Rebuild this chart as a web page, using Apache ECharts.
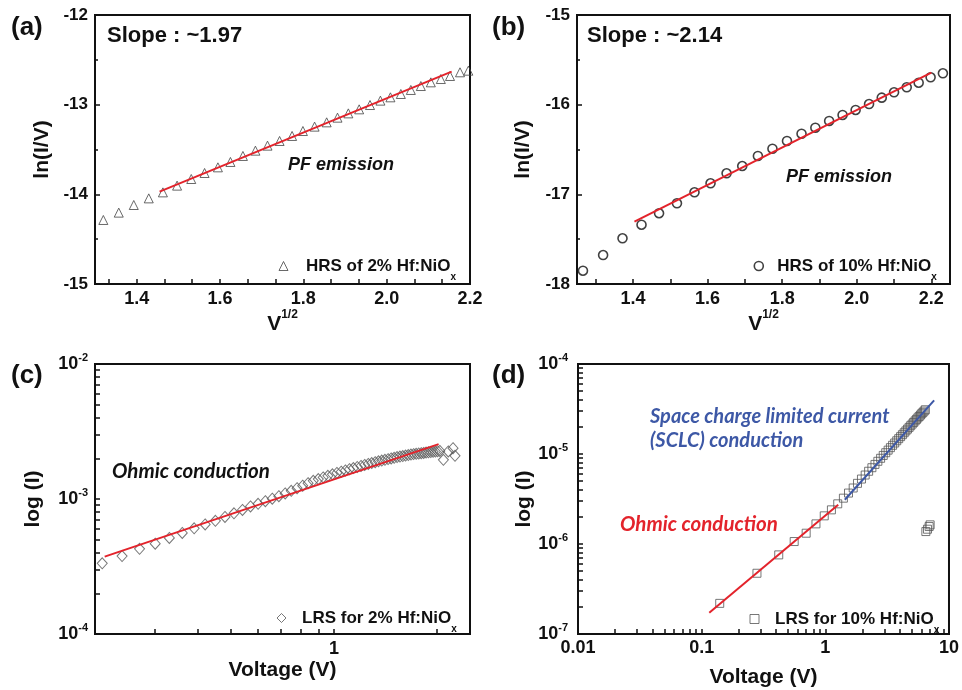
<!DOCTYPE html>
<html><head><meta charset="utf-8">
<script src="https://cdn.jsdelivr.net/npm/echarts@6/dist/echarts.min.js"></script>
<style>html,body{margin:0;padding:0;background:#fff}#c{width:962px;height:690px}</style>
</head><body><div id="c"></div>
<script>
// ---------- (a) HRS of 2% Hf:NiOx : ln(I/V) vs V^1/2 ----------
const aX = [1.320,1.357,1.393,1.429,1.463,1.497,1.531,1.563,1.595,1.625,1.655,1.685,1.714,1.743,1.773,1.799,1.827,1.856,1.882,1.908,1.934,1.960,1.985,2.009,2.034,2.058,2.082,2.106,2.130,2.152,2.176,2.196];
const aY = [-14.286,-14.204,-14.119,-14.045,-13.978,-13.903,-13.829,-13.762,-13.699,-13.639,-13.572,-13.513,-13.457,-13.405,-13.349,-13.294,-13.245,-13.197,-13.145,-13.097,-13.052,-13.004,-12.955,-12.918,-12.881,-12.836,-12.792,-12.751,-12.714,-12.680,-12.639,-12.621];
const aFitX = [1.455, 2.156];
const aFitY = [-13.970, -12.632];
const aXLabels = [1.4,1.6,1.8,2.0,2.2];
const aXTicks = [1.3333,1.4,1.4667,1.5333,1.6,1.6667,1.7333,1.8,1.8667,1.9333,2.0,2.0667,2.1333,2.2];

// ---------- (b) HRS of 10% Hf:NiOx ----------
const bX = [1.266,1.320,1.372,1.423,1.470,1.518,1.565,1.608,1.651,1.693,1.735,1.774,1.813,1.852,1.889,1.926,1.962,1.997,2.033,2.067,2.100,2.134,2.166,2.198,2.231];
const bY = [-17.852,-17.677,-17.490,-17.339,-17.211,-17.100,-16.977,-16.877,-16.765,-16.684,-16.572,-16.491,-16.405,-16.324,-16.257,-16.182,-16.115,-16.059,-15.993,-15.922,-15.862,-15.806,-15.755,-15.695,-15.650];
const bFitX = [1.404, 2.200];
const bFitY = [-17.305, -15.643];
const bXLabels = [1.4,1.6,1.8,2.0,2.2];
const bXTicks = [1.3,1.4,1.5,1.6,1.7,1.8,1.9,2.0,2.1,2.2];

// ---------- (c) LRS for 2% Hf:NiOx : log I vs V ----------
const cX = [0.21,0.24,0.27,0.30,0.33,0.36,0.39,0.42,0.45,0.48,0.51,0.54,0.57,0.60,0.63,0.66,0.69,0.72,0.75,
  0.78,0.81,0.84,0.87,0.90,0.93,0.96,0.99,1.02,1.05,1.08,1.11,1.14,1.17,1.20,1.23,1.26,1.29,1.32,1.35,
  1.38,1.41,1.44,1.47,1.50,1.53,1.56,1.59,1.62,1.65,1.68,1.71,1.74,1.77,1.80,1.83,1.86,1.89,1.92,1.95,
  1.98,2.01,2.04,2.09,2.16,2.23,2.26];
const cY = [3.34e-4,3.78e-4,4.28e-4,4.67e-4,5.15e-4,5.61e-4,6.07e-4,6.48e-4,6.90e-4,7.36e-4,7.84e-4,8.29e-4,8.80e-4,9.22e-4,9.63e-4,1.005e-3,1.05e-3,1.10e-3,1.15e-3,
  1.203e-3,1.256e-3,1.309e-3,1.363e-3,1.405e-3,1.446e-3,1.486e-3,1.524e-3,1.559e-3,1.594e-3,1.629e-3,1.662e-3,1.694e-3,1.726e-3,1.758e-3,1.789e-3,1.817e-3,1.845e-3,1.874e-3,1.901e-3,
  1.927e-3,1.951e-3,1.974e-3,1.997e-3,2.020e-3,2.043e-3,2.061e-3,2.080e-3,2.098e-3,2.115e-3,2.133e-3,2.150e-3,2.162e-3,2.173e-3,2.184e-3,2.195e-3,2.206e-3,2.216e-3,2.227e-3,2.238e-3,
  2.248e-3,2.258e-3,2.268e-3,1.95e-3,2.25e-3,2.38e-3,2.09e-3];
const cFitX = [0.2135, 2.024];
const cFitY = [3.74e-4, 2.55e-3];
const cXLabels = [1];
const cXTicks = [0.3,0.4,0.5,0.6,0.7,0.8,0.9,1,2];
const cYLabels = [1e-4,1e-3,1e-2];
const cYTicks = [1e-4,2e-4,3e-4,4e-4,5e-4,6e-4,7e-4,8e-4,9e-4,1e-3,2e-3,3e-3,4e-3,5e-3,6e-3,7e-3,8e-3,9e-3,1e-2];

// ---------- (d) LRS for 10% Hf:NiOx ----------
const dX = [0.14,0.28,0.42,0.56,0.70,0.84,0.98,1.12,1.26,1.40,1.54,1.68,1.82,1.96,2.10,2.24,2.38,2.52,2.66,2.80,
  2.94,3.08,3.22,3.36,3.50,3.64,3.78,3.92,4.06,4.20,4.34,4.48,4.62,4.76,4.90,5.04,5.18,5.32,5.46,5.60,
  5.74,5.88,6.02,6.16,6.30,6.44,6.50,6.70,6.91,7.04];
const dY = [2.19e-7,4.73e-7,7.57e-7,1.065e-6,1.318e-6,1.674e-6,2.055e-6,2.396e-6,2.794e-6,3.23e-6,3.68e-6,4.19e-6,4.72e-6,5.27e-6,5.84e-6,6.43e-6,7.04e-6,7.66e-6,8.30e-6,8.96e-6,
  9.64e-6,1.033e-5,1.104e-5,1.176e-5,1.250e-5,1.325e-5,1.402e-5,1.480e-5,1.559e-5,1.639e-5,1.722e-5,1.805e-5,1.890e-5,1.976e-5,2.063e-5,2.151e-5,2.242e-5,2.333e-5,2.425e-5,2.518e-5,
  2.612e-5,2.708e-5,2.804e-5,2.902e-5,3.000e-5,3.101e-5,1.375e-6,1.46e-6,1.563e-6,1.632e-6];
const dOhmFitX = [0.1152, 1.271];
const dOhmFitY = [1.727e-7, 2.724e-6];
const dSclcFitX = [1.438, 7.58];
const dSclcFitY = [3.10e-6, 3.94e-5];
const dXLabels = [0.01,0.1,1,10];
const dXTicks = [0.01,0.02,0.03,0.04,0.05,0.06,0.07,0.08,0.09,0.1,0.2,0.3,0.4,0.5,0.6,0.7,0.8,0.9,1,2,3,4,5,6,7,8,9,10];
const dYLabels = [1e-7,1e-6,1e-5,1e-4];
const dYTicks = [1e-7,2e-7,3e-7,4e-7,5e-7,6e-7,7e-7,8e-7,9e-7,1e-6,2e-6,3e-6,4e-6,5e-6,6e-6,7e-6,8e-6,9e-6,1e-5,2e-5,3e-5,4e-5,5e-5,6e-5,7e-5,8e-5,9e-5,1e-4];

// ---------------------------------------------------------------
const FONT = 'Liberation Sans';
const INK = '#111';
const RED = '#e3232b';
const BLUE = '#3d58a6';
const zip = (xs, ys) => xs.map((x, i) => [x, ys[i]]);

const axisBase = {
  axisLine: {show: true, onZero: false, lineStyle: {color: INK, width: 2}},
  axisTick: {show: true, inside: true, length: 5, lineStyle: {color: INK, width: 1.5}},
  splitLine: {show: false},
  nameTextStyle: {color: INK, fontFamily: FONT, fontWeight: 'bold', fontSize: 21}
};
const supRich = {
  b: {fontFamily: FONT, fontWeight: 'bold', fontSize: 18, color: INK, lineHeight: 24},
  s: {fontFamily: FONT, fontWeight: 'bold', fontSize: 11, color: INK, lineHeight: 11, verticalAlign: 'top'}
};
const powLabel = v => '{b|10}{s|' + Math.round(Math.log10(v)) + '}';

function mk(o) { return Object.assign({}, axisBase, o); }

function legend(name, icon, left, top, pad, border, bw) {
  return {
    data: [name], left: left, top: top, padding: 0, itemWidth: 9, itemHeight: 9,
    selectedMode: false, icon: icon,
    itemStyle: {color: 'rgba(0,0,0,0)', borderColor: border, borderWidth: bw},
    formatter: n => '{g| }{m|' + n + '}{sub|x}',
    textStyle: {
      fontFamily: FONT, fontSize: 17, fontWeight: 'bold', color: INK,
      rich: {
        g: {width: pad, fontSize: 10, lineHeight: 10},
        m: {fontFamily: FONT, fontSize: 17, fontWeight: 'bold', color: INK, lineHeight: 18, verticalAlign: 'top', padding: [1, 0, 9, 0]},
        sub: {fontFamily: FONT, fontSize: 10, fontWeight: 'bold', color: INK, lineHeight: 10, verticalAlign: 'top', padding: [15, 0, 0, 0]}
      }
    }
  };
}

const option = {
  animation: false,
  backgroundColor: '#fff',
  grid: [
    {left: 95, top: 15, width: 375, height: 269, show: true, borderColor: INK, borderWidth: 2},
    {left: 577, top: 15, width: 373, height: 269, show: true, borderColor: INK, borderWidth: 2},
    {left: 95, top: 364, width: 375, height: 270, show: true, borderColor: INK, borderWidth: 2},
    {left: 578, top: 364, width: 374, height: 270, show: true, borderColor: INK, borderWidth: 2}
  ],
  xAxis: [
    mk({gridIndex: 0, type: 'value', min: 1.3, max: 2.2,
      axisTick: Object.assign({}, axisBase.axisTick, {customValues: aXTicks}),
      axisLabel: {customValues: aXLabels, formatter: v => v.toFixed(1), margin: 6, color: INK, fontFamily: FONT, fontWeight: 'bold', fontSize: 18},
      name: '{v|V}{s|1/2}', nameLocation: 'middle', nameGap: 24,
      nameTextStyle: {rich: {v: {fontFamily: FONT, fontWeight: 'bold', fontSize: 21, color: INK, lineHeight: 30},
        s: {fontFamily: FONT, fontWeight: 'bold', fontSize: 12, color: INK, lineHeight: 12, verticalAlign: 'top'}}}}),
    mk({gridIndex: 1, type: 'value', min: 1.25, max: 2.25,
      axisTick: Object.assign({}, axisBase.axisTick, {customValues: bXTicks}),
      axisLabel: {customValues: bXLabels, formatter: v => v.toFixed(1), margin: 6, color: INK, fontFamily: FONT, fontWeight: 'bold', fontSize: 18},
      name: '{v|V}{s|1/2}', nameLocation: 'middle', nameGap: 24,
      nameTextStyle: {rich: {v: {fontFamily: FONT, fontWeight: 'bold', fontSize: 21, color: INK, lineHeight: 30},
        s: {fontFamily: FONT, fontWeight: 'bold', fontSize: 12, color: INK, lineHeight: 12, verticalAlign: 'top'}}}}),
    mk({gridIndex: 2, type: 'log', logBase: 10, min: 0.2, max: 2.5,
      axisTick: Object.assign({}, axisBase.axisTick, {customValues: cXTicks}),
      axisLabel: {customValues: cXLabels, formatter: v => String(v), margin: 6, color: INK, fontFamily: FONT, fontWeight: 'bold', fontSize: 18},
      name: 'Voltage (V)', nameLocation: 'middle', nameGap: 26}),
    mk({gridIndex: 3, type: 'log', logBase: 10, min: 0.01, max: 10,
      axisTick: Object.assign({}, axisBase.axisTick, {customValues: dXTicks}),
      axisLabel: {customValues: dXLabels, formatter: v => String(v), margin: 5, color: INK, fontFamily: FONT, fontWeight: 'bold', fontSize: 18},
      name: 'Voltage (V)', nameLocation: 'middle', nameGap: 33})
  ],
  yAxis: [
    mk({gridIndex: 0, type: 'value', min: -15, max: -12, interval: 1,
      minorTick: {show: true, splitNumber: 2, length: 3, lineStyle: {color: INK, width: 1.5}},
      axisLabel: {margin: 7, color: INK, fontFamily: FONT, fontWeight: 'bold', fontSize: 17},
      name: 'ln(I/V)', nameLocation: 'middle', nameGap: 42}),
    mk({gridIndex: 1, type: 'value', min: -18, max: -15, interval: 1,
      minorTick: {show: true, splitNumber: 2, length: 3, lineStyle: {color: INK, width: 1.5}},
      axisLabel: {margin: 7, color: INK, fontFamily: FONT, fontWeight: 'bold', fontSize: 17},
      name: 'ln(I/V)', nameLocation: 'middle', nameGap: 43}),
    mk({gridIndex: 2, type: 'log', logBase: 10, min: 1e-4, max: 1e-2,
      axisTick: Object.assign({}, axisBase.axisTick, {customValues: cYTicks}),
      axisLabel: {customValues: cYLabels, formatter: powLabel, margin: 7, rich: supRich},
      name: 'log (I)', nameLocation: 'middle', nameGap: 51}),
    mk({gridIndex: 3, type: 'log', logBase: 10, min: 1e-7, max: 1e-4,
      axisTick: Object.assign({}, axisBase.axisTick, {customValues: dYTicks}),
      axisLabel: {customValues: dYLabels, formatter: powLabel, margin: 10, rich: supRich},
      name: 'log (I)', nameLocation: 'middle', nameGap: 40})
  ],
  legend: [
    legend('HRS of 2% Hf:NiO', 'triangle', 278.5, 257, 13, '#444', 1),
    legend('HRS of 10% Hf:NiO', 'circle', 753.5, 257, 9, INK, 1.6),
    legend('LRS for 2% Hf:NiO', 'diamond', 276.5, 609, 11, '#555', 1),
    legend('LRS for 10% Hf:NiO', 'rect', 749.5, 610, 11, '#555', 1)
  ],
  series: [
    {type: 'scatter', name: 'HRS of 2% Hf:NiO', xAxisIndex: 0, yAxisIndex: 0, data: zip(aX, aY),
      symbol: 'triangle', symbolSize: 9, itemStyle: {color: 'rgba(0,0,0,0)', borderColor: '#444', borderWidth: 1}, z: 3},
    {type: 'line', name: 'fitA', xAxisIndex: 0, yAxisIndex: 0, data: zip(aFitX, aFitY), symbol: 'none',
      lineStyle: {color: RED, width: 2}, z: 4},
    {type: 'scatter', name: 'HRS of 10% Hf:NiO', xAxisIndex: 1, yAxisIndex: 1, data: zip(bX, bY),
      symbol: 'circle', symbolSize: 9, itemStyle: {color: 'rgba(0,0,0,0)', borderColor: INK, borderWidth: 1.6}, z: 3},
    {type: 'line', name: 'fitB', xAxisIndex: 1, yAxisIndex: 1, data: zip(bFitX, bFitY), symbol: 'none',
      lineStyle: {color: RED, width: 2}, z: 4},
    {type: 'scatter', name: 'LRS for 2% Hf:NiO', xAxisIndex: 2, yAxisIndex: 2, data: zip(cX, cY),
      symbol: 'diamond', symbolSize: [10, 11], itemStyle: {color: 'rgba(0,0,0,0)', borderColor: '#555', borderWidth: 1}, z: 3},
    {type: 'line', name: 'fitC', xAxisIndex: 2, yAxisIndex: 2, data: zip(cFitX, cFitY), symbol: 'none',
      lineStyle: {color: RED, width: 2}, z: 4},
    {type: 'scatter', name: 'LRS for 10% Hf:NiO', xAxisIndex: 3, yAxisIndex: 3, data: zip(dX, dY),
      symbol: 'rect', symbolSize: 8, itemStyle: {color: 'rgba(0,0,0,0)', borderColor: '#555', borderWidth: 1}, z: 3},
    {type: 'line', name: 'fitDOhm', xAxisIndex: 3, yAxisIndex: 3, data: zip(dOhmFitX, dOhmFitY), symbol: 'none',
      lineStyle: {color: RED, width: 2}, z: 4},
    {type: 'line', name: 'fitDSclc', xAxisIndex: 3, yAxisIndex: 3, data: zip(dSclcFitX, dSclcFitY), symbol: 'none',
      lineStyle: {color: BLUE, width: 2}, z: 4}
  ],
  graphic: [
    {type: 'text', x: 11, y: 28, style: {text: '(a)', font: 'bold 26px "Liberation Sans"', fill: INK, verticalAlign: 'middle'}},
    {type: 'text', x: 492, y: 28, style: {text: '(b)', font: 'bold 26px "Liberation Sans"', fill: INK, verticalAlign: 'middle'}},
    {type: 'text', x: 11, y: 376, style: {text: '(c)', font: 'bold 26px "Liberation Sans"', fill: INK, verticalAlign: 'middle'}},
    {type: 'text', x: 492, y: 376, style: {text: '(d)', font: 'bold 26px "Liberation Sans"', fill: INK, verticalAlign: 'middle'}},
    {type: 'text', x: 107, y: 36, style: {text: 'Slope : ~1.97', font: 'bold 22px "Liberation Sans"', fill: INK, verticalAlign: 'middle'}},
    {type: 'text', x: 587, y: 36, style: {text: 'Slope : ~2.14', font: 'bold 22px "Liberation Sans"', fill: INK, verticalAlign: 'middle'}},
    {type: 'text', x: 288, y: 165, style: {text: 'PF emission', font: 'italic bold 18px "Liberation Sans"', fill: INK, verticalAlign: 'middle'}},
    {type: 'text', x: 786, y: 177, style: {text: 'PF emission', font: 'italic bold 18px "Liberation Sans"', fill: INK, verticalAlign: 'middle'}},
    {type: 'text', x: 112, y: 471, style: {text: 'Ohmic conduction', font: 'italic bold 20.5px "Lato"', fill: INK, verticalAlign: 'middle'}},
    {type: 'text', x: 650, y: 417, style: {text: 'Space charge limited current', font: 'italic bold 20px "Lato"', fill: BLUE, verticalAlign: 'middle'}},
    {type: 'text', x: 650, y: 441, style: {text: '(SCLC) conduction', font: 'italic bold 20px "Lato"', fill: BLUE, verticalAlign: 'middle'}},
    {type: 'text', x: 620, y: 524, style: {text: 'Ohmic conduction', font: 'italic bold 20.5px "Lato"', fill: RED, verticalAlign: 'middle'}}
  ]
};
const chart = echarts.init(document.getElementById('c'), null, {renderer: 'canvas'});
chart.setOption(option);
</script>
</body></html>
